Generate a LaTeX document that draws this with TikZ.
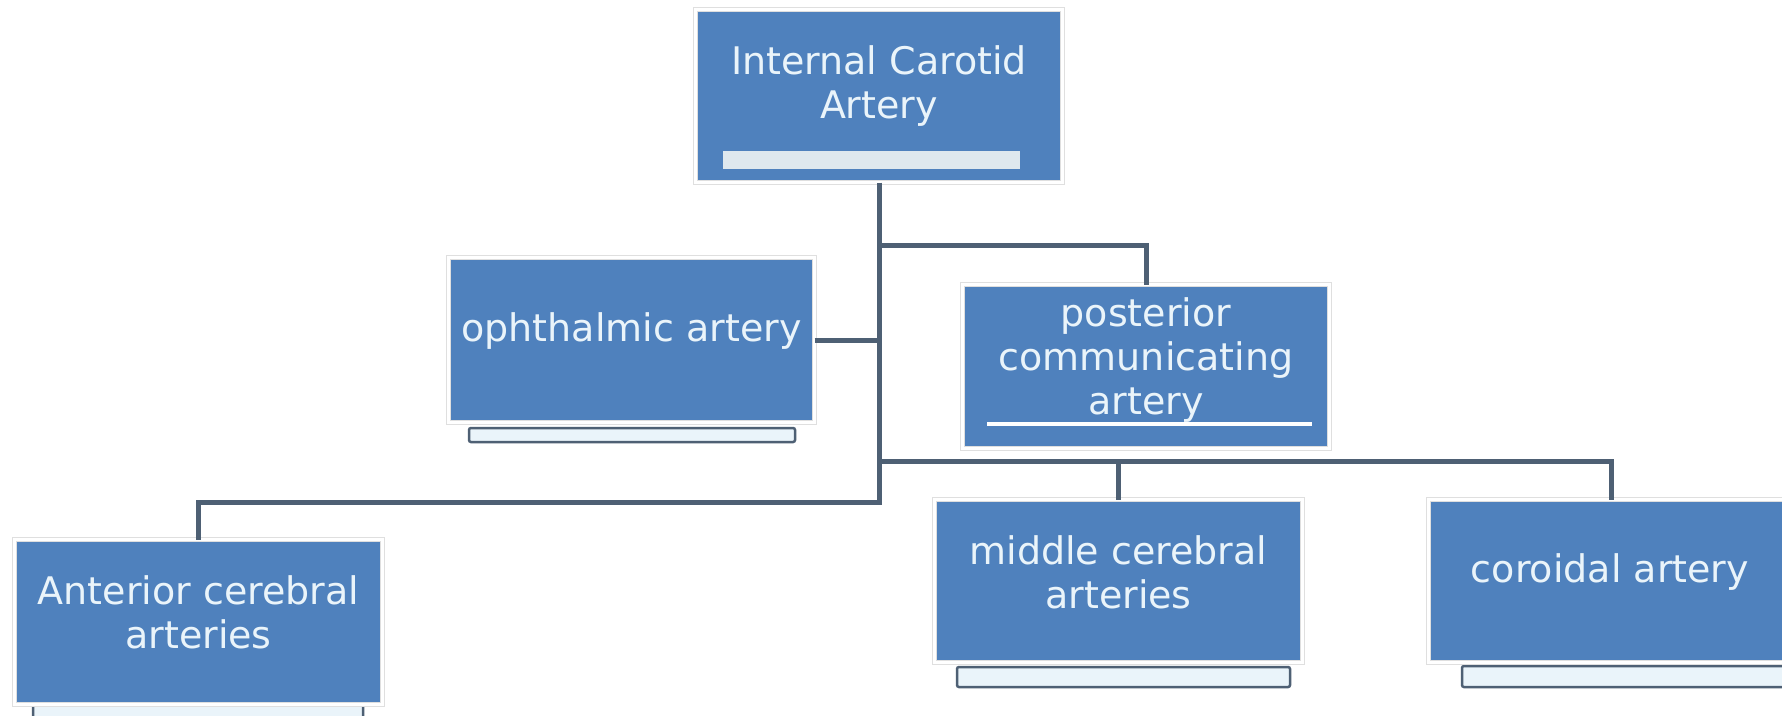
\documentclass[tikz,border=0pt]{standalone}
\usepackage{fontspec}
\setmainfont{DejaVu Sans}
\usepackage{xcolor}
\usepackage{tikz}

\definecolor{boxblue}{RGB}{79,129,189}
\definecolor{linkgray}{RGB}{78,96,116}
\definecolor{paleblue}{RGB}{234,244,250}

\begin{document}
\begin{tikzpicture}[x=1pt, y=-1pt,
    artbox/.style={draw=gray!25, double=white, double distance=3pt, line width=0.8pt,
      fill=boxblue, inner sep=0pt, outer sep=0pt},
    arttext/.style={text=paleblue, align=center, font=\fontsize{38}{44}\selectfont},
    artbar/.style={draw=linkgray, line width=2.5pt, fill=paleblue, rounded corners=2pt},
    link/.style={draw=linkgray, line width=5pt}]
      \fill[white, use as bounding box] (0,0) rectangle (1782,715);
      \clip (0,0) rectangle (1782,715);

      % Bars under the boxes
      \draw[artbar] (469,428) rectangle (795,442);
      \draw[artbar] (33,698) rectangle (363,725);
      \draw[artbar] (957,667) rectangle (1290,687);
      \draw[artbar] (1462,666) rectangle (1800,687);

      % Define nodes
      \node[artbox, minimum width=367, minimum height=173] (ica) at (879,96) {};
      \node[artbox, minimum width=366, minimum height=165] (ophthalmic) at (631.5,340) {};
      \node[artbox, minimum width=367, minimum height=164] (post_comm) at (1146,366.5) {};
      \node[artbox, minimum width=368, minimum height=165] (ant_cer) at (198.5,622) {};
      \node[artbox, minimum width=368, minimum height=163] (mid_cer) at (1118.5,581) {};
      \node[artbox, minimum width=366, minimum height=163] (coroidal) at (1611.5,581) {};

      \fill[paleblue!90!gray] (723,151) rectangle (1020,169);
      \draw[white, line width=4pt] (987,424) -- (1312,424);

      % Texts
      \node[arttext] (ica_text) at (879,86) {Internal Carotid\\Artery};
      \node[arttext] (ophthalmic_text) at (631.5,331) {ophthalmic artery};
      \node[arttext] (post_comm_text) at (1146,360) {posterior\\communicating\\artery};
      \node[arttext] (ant_cer_text) at (198.5,612) {Anterior cerebral\\arteries};
      \node[arttext] (mid_cer_text) at (1118.5,572) {middle cerebral\\arteries};
      \node[arttext] (coroidal_text) at (1610,572) {coroidal artery};

      % Connect the nodes
      \coordinate (pcom_fork) at (879,245);
      \coordinate (low_fork) at (879,461);
      \coordinate (aca_fork) at (879,502);
      \draw[link] (ica.south) -- (ica.south |- aca_fork) -| (ant_cer.north);
      \draw[link] (ica.south |- pcom_fork) -| (post_comm.north);
      \draw[link] (ophthalmic.east) -- (ophthalmic.east -| ica.south);
      \draw[link] (ica.south |- low_fork) -| (coroidal.north);
      \draw[link] (mid_cer.north |- low_fork) -- (mid_cer.north);

\end{tikzpicture}
\end{document}
